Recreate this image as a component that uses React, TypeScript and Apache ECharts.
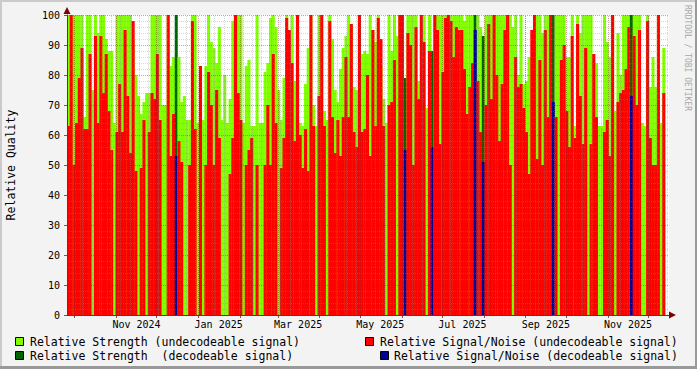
import React, { useEffect, useRef } from "react";
import * as echarts from "echarts";

const DAY = 86400000;
// x axis is measured in days since ORIGIN (the left edge of the plot)
const ORIGIN = Date.UTC(2024, 8, 25, 9, 36);
const AXIS_DAYS = 447;
const COLUMN_DAYS = 2;

// Relative Strength per 2-day column (undecodeable unless listed in decodeableColumns)
const strength = [
  100, 100, 100, 100, 100, 100, 66, 100, 100, 75,
  100, 94, 100, 100, 92, 88, 88, 64, 100, 100,
  100, 100, 100, 100, 92, 80, 73, 67, 71, 74,
  74, 100, 100, 100, 100, 70, 70, 100, 83, 86,
  100, 86, 71, 73, 65, 65, 100, 100, 64, 72,
  65, 83, 100, 91, 89, 84, 96, 65, 80, 64,
  72, 98, 92, 100, 100, 64, 83, 85, 63, 63,
  100, 64, 64, 81, 84, 99, 100, 96, 75, 65,
  79, 100, 92, 100, 78, 100, 64, 63, 77, 89,
  100, 70, 63, 100, 100, 68, 65, 100, 92, 75,
  71, 82, 89, 93, 100, 97, 76, 75, 100, 87,
  88, 87, 100, 95, 91, 100, 83, 72, 64, 100,
  88, 100, 93, 100, 100, 79, 100, 100, 100, 100,
  78, 100, 100, 69, 100, 88, 100, 100, 100, 100,
  100, 100, 100, 100, 100, 100, 100, 98, 100, 100,
  100, 100, 100, 96, 93, 100, 100, 100, 100, 100,
  100, 100, 100, 100, 100, 96, 100, 80, 100, 77,
  78, 86, 86, 100, 100, 100, 94, 100, 100, 100,
  100, 100, 100, 100, 100, 86, 86, 100, 63, 100,
  94, 100, 100, 100, 100, 87, 84, 63, 63, 100,
  91, 86, 100, 68, 94, 80, 100, 100, 100, 100,
  100, 100, 100, 64, 63, 100, 76, 86, 76, 100,
  64, 89,
];

// Relative Signal/Noise per 2-day column
const signalNoise = [
  63, 100, 50, 64, 79, 89, 62, 62, 87, 0,
  93, 64, 93, 74, 87, 68, 55, 0, 61, 77,
  61, 95, 73, 54, 98, 48, 0, 49, 65, 0,
  61, 74, 72, 87, 65, 0, 0, 100, 53, 67,
  53, 58, 51, 0, 0, 50, 98, 62, 0, 83,
  0, 50, 81, 70, 50, 75, 59, 0, 0, 0,
  47, 59, 100, 74, 65, 0, 50, 55, 59, 0,
  50, 0, 0, 50, 70, 50, 87, 64, 0, 49,
  59, 99, 95, 84, 58, 100, 60, 49, 62, 48,
  100, 63, 0, 73, 100, 63, 0, 98, 66, 54,
  65, 53, 66, 86, 66, 97, 61, 56, 100, 61,
  62, 80, 53, 95, 63, 99, 92, 63, 0, 70,
  71, 85, 0, 100, 100, 55, 94, 90, 50, 96,
  72, 100, 91, 0, 88, 56, 100, 95, 57, 81,
  99, 100, 98, 86, 96, 95, 95, 82, 67, 76,
  84, 95, 78, 61, 51, 70, 97, 72, 100, 80,
  58, 77, 95, 100, 50, 0, 86, 76, 77, 69,
  61, 47, 95, 100, 52, 85, 50, 95, 66, 100,
  71, 66, 0, 85, 90, 68, 56, 93, 59, 97,
  73, 57, 89, 0, 57, 87, 66, 0, 0, 61,
  65, 53, 100, 0, 71, 74, 75, 82, 96, 73,
  93, 70, 95, 0, 0, 98, 59, 50, 50, 100,
  0, 74,
];

// columns in which the signal was decodeable
const decodeableColumns = [40, 125, 135, 151, 154, 180, 209];

// x-axis labels (RRDtool centres month labels inside the month)
const labelMonths: [number, number][] = [
  [2024, 10], [2025, 0], [2025, 2], [2025, 4], [2025, 6], [2025, 8], [2025, 10],
];
const MONTH_NAMES = ["Jan", "Feb", "Mar", "Apr", "May", "Jun", "Jul", "Aug", "Sep", "Oct", "Nov", "Dec"];

const legendNames = [
  "Relative Strength (undecodeable signal)",
  "Relative Signal/Noise (undecodeable signal)",
  "Relative Strength  (decodeable signal)",
  "Relative Signal/Noise (decodeable signal)",
];

const LIGHT_GREEN = "#80FF00";
const DARK_GREEN = "#006400";
const RED = "#FF0000";
const DARK_BLUE = "#000096";
const MONO = "'DejaVu Sans Mono', monospace";
const MAJOR_GRID = "rgba(130,30,30,0.42)";
const MINOR_GRID = "rgba(140,140,140,0.35)";

const toDays = (t: number) => (t - ORIGIN) / DAY;

export default function App() {
  const ref = useRef<HTMLDivElement>(null);
  useEffect(() => {
    const chart = echarts.init(ref.current!, null, { renderer: "svg" });
    const dec = new Set(decodeableColumns);

    const monthStarts: number[] = [];
    for (let y = 2024, m = 9; y < 2025 || (y === 2025 && m <= 11); m++) {
      if (m > 11) { m = 0; y++; }
      monthStarts.push(toDays(Date.UTC(y, m, 1)));
    }
    const weeks: number[] = [];
    for (let t = Date.UTC(2024, 8, 30); toDays(t) < AXIS_DAYS; t += 7 * DAY) weeks.push(toDays(t));
    const labelDays = labelMonths.map(([y, m]) => toDays(Date.UTC(y, m, 16)));

    const legendColors = [LIGHT_GREEN, RED, DARK_GREEN, DARK_BLUE];
    const legendBoxes = [[15, 337], [365, 337], [15, 351], [380, 351]];
    const legendTexts = [[30, 341.5], [380, 341.5], [30, 355.5], [394, 355.5]];

    const graphic: any[] = [
      { type: "rect", shape: { x: 0, y: 0, width: 697, height: 2 }, style: { fill: "#CBCBCB" }, silent: true },
      { type: "rect", shape: { x: 0, y: 0, width: 2, height: 369 }, style: { fill: "#CBCBCB" }, silent: true },
      { type: "rect", shape: { x: 695, y: 0, width: 2, height: 369 }, style: { fill: "#999999" }, silent: true },
      { type: "rect", shape: { x: 0, y: 366, width: 697, height: 3 }, style: { fill: "#999999" }, silent: true },
      { type: "polygon", shape: { points: [[63.5, 14], [70.5, 14], [67, 7]] }, style: { fill: "#7F0000" }, silent: true },
      { type: "polygon", shape: { points: [[669, 311.5], [669, 318.5], [676, 315]] }, style: { fill: "#7F0000" }, silent: true },
      {
        type: "text", x: 687, y: 5, rotation: -Math.PI / 2, silent: true,
        style: { text: "RRDTOOL / TOBI OETIKER", fontFamily: MONO, fontSize: 8, fill: "#A8A8A8", align: "left", verticalAlign: "middle" },
      },
    ];
    legendNames.forEach((name, k) => {
      graphic.push({
        type: "rect", silent: true,
        shape: { x: legendBoxes[k][0] + 0.5, y: legendBoxes[k][1] + 0.5, width: 8, height: 8 },
        style: { fill: legendColors[k], stroke: "#000", lineWidth: 1 },
      });
      graphic.push({
        type: "text", silent: true, x: legendTexts[k][0], y: legendTexts[k][1],
        style: { text: name, fontFamily: MONO, fontSize: 11.5, fill: "#000", align: "left", verticalAlign: "middle" },
      });
    });

    const makeRender = (normal: string, decoded: string) => (params: any, api: any) => {
      const base = api.coord([api.value(0), 0]);
      const top = api.coord([api.value(1), api.value(2)]);
      const h = base[1] - top[1];
      if (h <= 0) return null;
      return {
        type: "rect",
        shape: { x: base[0], y: top[1], width: top[0] - base[0] + 0.35, height: h },
        style: { fill: api.value(3) ? decoded : normal },
      };
    };
    const toItems = (arr: number[]) =>
      arr.map((v, i) => [i * COLUMN_DAYS, (i + 1) * COLUMN_DAYS, v, dec.has(i) ? 1 : 0]);

    const option: any = {
      animation: false,
      backgroundColor: "#F3F3F3",
      textStyle: { fontFamily: MONO },
      grid: {
        left: 67, top: 15, width: 602, height: 300,
        containLabel: false, outerBoundsMode: "none",
        show: true, backgroundColor: "#FFFFFF", borderWidth: 0,
      },
      xAxis: {
        type: "value",
        min: 0,
        max: AXIS_DAYS,
        z: 6,
        axisLine: { show: true, onZero: false, lineStyle: { color: "#2C4D43", width: 1 } },
        axisTick: { show: true, customValues: monthStarts, length: 3, lineStyle: { color: "rgba(130,30,30,0.8)" } },
        axisLabel: {
          customValues: labelDays,
          formatter: (v: number) => {
            const d = new Date(ORIGIN + v * DAY);
            return MONTH_NAMES[d.getUTCMonth()] + " " + d.getUTCFullYear();
          },
          fontFamily: MONO, fontSize: 10, color: "#000", margin: 4,
        },
        splitLine: { show: false },
      },
      yAxis: {
        type: "value",
        min: 0,
        max: 100,
        interval: 10,
        z: 6,
        name: "Relative Quality",
        nameLocation: "middle",
        nameGap: 50,
        nameRotate: 90,
        nameTextStyle: { fontFamily: MONO, fontSize: 11.5, color: "#000" },
        axisLine: { show: true, onZero: false, lineStyle: { color: "#2C4D43", width: 1 } },
        axisTick: { show: true, length: 3, lineStyle: { color: "rgba(130,30,30,0.8)" } },
        axisLabel: { fontFamily: MONO, fontSize: 10, color: "#000", margin: 7 },
        splitLine: { show: true, lineStyle: { color: MAJOR_GRID, type: [1, 1], width: 1 } },
        minorTick: { show: false, splitNumber: 5 },
        minorSplitLine: { show: true, lineStyle: { color: MINOR_GRID, type: [1, 1], width: 1 } },
      },
      series: [
        {
          type: "custom",
          name: "Relative Strength",
          silent: true,
          renderItem: makeRender(LIGHT_GREEN, DARK_GREEN),
          encode: { x: [0, 1], y: 2 },
          data: toItems(strength),
          z: 2,
        },
        {
          type: "custom",
          name: "Relative Signal/Noise",
          silent: true,
          renderItem: makeRender(RED, DARK_BLUE),
          encode: { x: [0, 1], y: 2 },
          data: toItems(signalNoise),
          z: 3,
          markLine: {
            silent: true,
            symbol: ["none", "none"],
            label: { show: false },
            z: 5,
            data: [
              ...weeks.map((t) => ({ xAxis: t, lineStyle: { color: MINOR_GRID, type: [1, 1], width: 1 } })),
              ...monthStarts.map((t) => ({ xAxis: t, lineStyle: { color: MAJOR_GRID, type: [1, 1], width: 1 } })),
            ],
          },
        },
      ],
      graphic,
    };
    chart.setOption(option);
    return () => chart.dispose();
  }, []);
  return <div ref={ref} style={{ position: "fixed", left: 0, top: 0, width: 697, height: 369 }} />;
}
